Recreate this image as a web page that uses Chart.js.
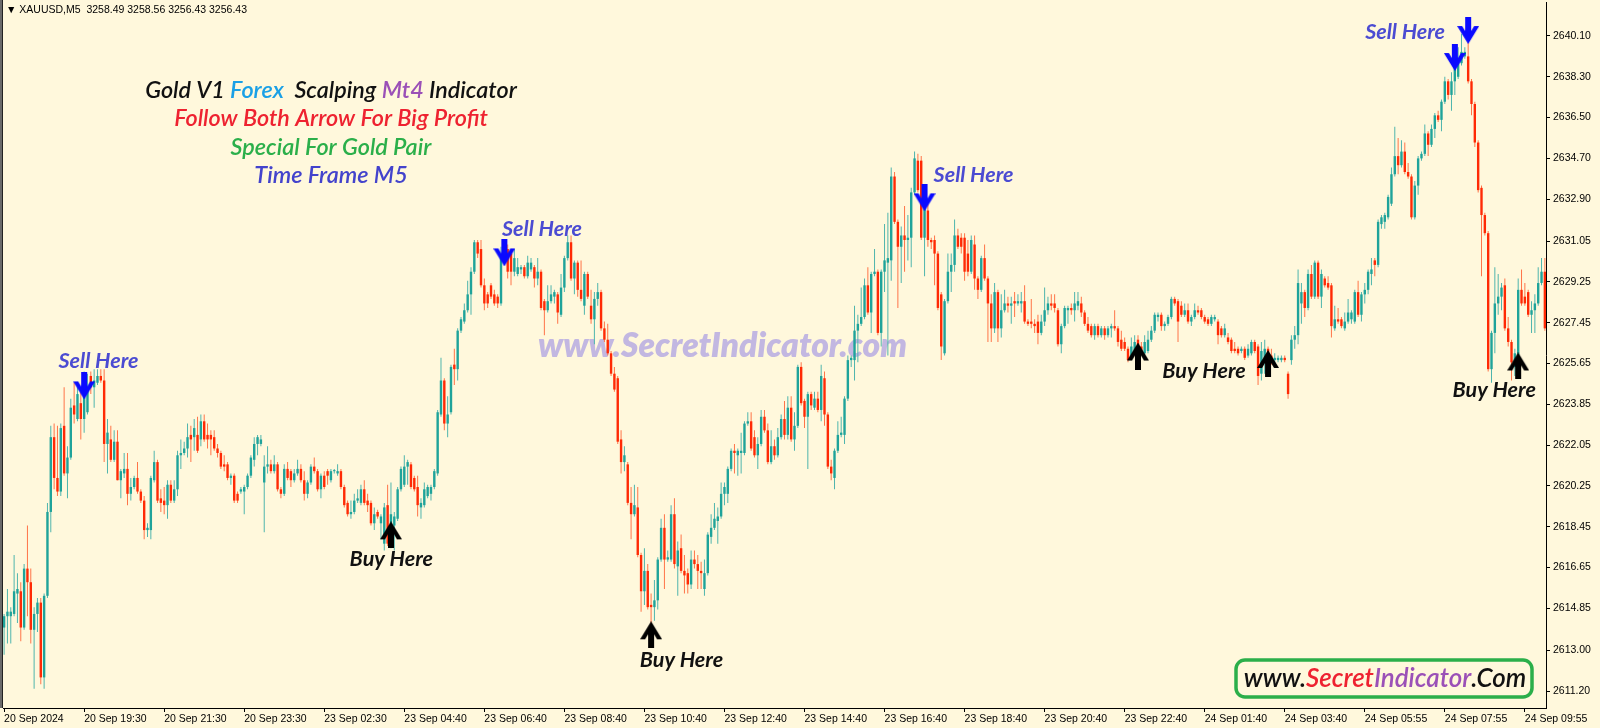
<!DOCTYPE html>
<html>
<head>
<meta charset="utf-8">
<script src="https://cdn.jsdelivr.net/npm/chart.js@4.4.1/dist/chart.umd.min.js"></script>
<style>
html, body { margin: 0; padding: 0; background: #FFF8DC; }
#wrap { width: 1600px; height: 728px; }
</style>
</head>
<body>
<div id="wrap"><canvas id="chart" width="1600" height="728"></canvas></div>
<script>
// XAUUSD M5 bars, oldest first
var openP = [
  2614.0,2614.5,2614.5,2614.6,2615.5,2615.6,2614.0,2616.6,2616.0,2613.9,
  2614.6,2615.1,2611.8,2615.4,2619.1,2622.4,2620.6,2620.0,2622.9,2620.8,
  2621.5,2623.8,2623.2,2623.9,2623.2,2623.5,2625.1,2624.6,2624.8,2625.1,
  2624.9,2622.1,2622.3,2621.4,2622.2,2620.5,2620.8,2621.0,2619.9,2620.2,
  2620.6,2620.0,2619.6,2618.3,2618.3,2620.5,2621.3,2619.7,2619.6,2619.4,
  2620.3,2619.6,2620.1,2621.6,2621.7,2621.9,2622.5,2622.4,2622.5,2622.3,
  2623.1,2622.5,2622.5,2622.4,2621.9,2621.7,2621.2,2621.2,2620.6,2620.7,
  2619.9,2620.0,2620.0,2620.2,2620.7,2621.4,2622.1,2622.1,2620.4,2621.1,
  2621.2,2620.9,2621.2,2620.1,2619.9,2621.0,2620.9,2620.5,2620.8,2621.0,
  2620.5,2619.9,2620.4,2621.1,2620.9,2620.1,2620.7,2620.9,2620.5,2620.9,
  2620.8,2620.9,2620.2,2619.5,2619.0,2619.1,2619.6,2619.5,2620.1,2619.6,
  2619.5,2618.6,2619.1,2618.6,2617.7,2619.4,2617.7,2618.5,2618.8,2620.1,
  2620.3,2621.1,2621.2,2620.6,2620.2,2619.3,2619.4,2619.8,2619.9,2620.2,
  2620.8,2623.4,2624.9,2623.0,2623.5,2625.6,2625.4,2627.1,2627.5,2628.0,
  2628.7,2629.7,2631.0,2630.7,2629.1,2628.7,2629.1,2628.7,2628.6,2628.3,
  2630.4,2630.7,2630.5,2629.7,2629.6,2629.8,2629.9,2629.5,2629.8,2629.9,
  2629.4,2629.7,2628.4,2628.0,2628.4,2628.6,2628.7,2627.8,2629.0,2630.3,
  2631.0,2629.4,2630.1,2628.9,2628.2,2629.6,2628.2,2627.6,2628.5,2628.8,
  2627.2,2626.7,2626.1,2625.2,2625.0,2622.3,2621.3,2621.2,2619.5,2619.0,
  2619.3,2617.2,2615.6,2616.5,2615.0,2614.9,2615.2,2617.0,2618.4,2617.0,
  2617.0,2619.0,2616.7,2617.5,2616.5,2616.4,2615.9,2617.0,2616.8,2616.5,
  2615.7,2616.4,2618.0,2618.4,2618.7,2618.9,2619.9,2619.9,2621.0,2621.8,
  2621.6,2621.7,2621.7,2623.0,2623.1,2622.4,2621.6,2622.1,2623.3,2622.7,
  2621.3,2622.0,2621.6,2622.4,2623.2,2622.5,2623.7,2622.3,2622.9,2625.5,
  2624.0,2623.3,2624.3,2623.7,2624.1,2623.6,2625.0,2623.4,2621.1,2620.6,
  2621.8,2622.5,2622.5,2624.1,2625.8,2625.8,2627.1,2627.4,2627.7,2629.1,
  2627.9,2629.6,2629.7,2627.0,2629.7,2630.1,2630.2,2633.9,2631.9,2630.8,
  2631.3,2631.1,2631.2,2633.2,2634.6,2634.6,2631.2,2632.4,2631.1,2631.1,
  2630.5,2628.7,2626.1,2628.4,2629.7,2630.0,2631.3,2631.2,2631.2,2630.5,
  2629.7,2630.9,2629.4,2628.9,2630.3,2629.4,2628.3,2627.2,2628.8,2627.2,
  2628.0,2628.3,2628.2,2628.4,2628.3,2628.3,2628.4,2627.5,2627.5,2627.4,
  2627.5,2627.0,2627.5,2628.0,2628.3,2628.3,2628.0,2626.5,2627.3,2628.0,
  2628.1,2628.0,2628.2,2628.3,2627.9,2627.4,2627.3,2626.9,2627.3,2626.9,
  2627.2,2626.9,2627.2,2627.3,2627.2,2626.7,2626.6,2626.3,2625.9,2626.2,
  2626.7,2626.4,2626.1,2626.2,2626.7,2627.1,2627.7,2627.8,2627.3,2627.4,
  2627.7,2628.5,2628.4,2628.2,2627.8,2628.0,2627.5,2627.7,2628.0,2628.0,
  2627.7,2627.6,2627.4,2627.6,2627.5,2627.2,2626.9,2626.8,2626.7,2626.3,
  2626.3,2626.2,2626.3,2626.0,2626.1,2626.6,2626.4,2625.2,2625.9,2626.3,
  2626.0,2625.8,2625.8,2625.8,2625.9,2625.2,2625.8,2626.7,2626.9,2628.3,
  2628.8,2628.1,2629.6,2628.6,2630.1,2628.6,2629.4,2629.2,2629.1,2627.2,
  2627.6,2627.6,2627.2,2627.5,2627.6,2627.5,2628.8,2627.8,2628.7,2628.9,
  2629.6,2630.2,2630.0,2631.8,2631.9,2632.1,2632.7,2634.0,2634.8,2634.4,
  2635.0,2634.1,2633.9,2632.1,2633.5,2634.7,2634.9,2635.8,2635.3,2636.0,
  2636.6,2636.4,2637.2,2638.1,2637.5,2638.1,2638.3,2638.9,2639.2,2639.2,
  2638.1,2637.1,2635.4,2633.4,2632.2,2631.4,2625.4,2627.0,2628.3,2628.6,
  2629.1,2627.2,2626.6,2625.5,2626.0,2628.9,2628.6,2628.8,2627.8,2628.0,
  2628.3,2629.2,2629.7
];
var highP = [
  2614.6,2615.7,2614.9,2617.2,2616.4,2616.0,2616.8,2618.5,2616.6,2614.9,
  2615.3,2615.3,2615.5,2619.5,2622.9,2623.0,2622.9,2623.0,2624.6,2622.0,
  2624.1,2624.8,2624.6,2624.4,2625.3,2625.2,2625.3,2625.4,2625.4,2625.4,
  2625.4,2623.2,2622.9,2622.7,2622.7,2621.0,2621.7,2621.7,2620.6,2620.7,
  2621.3,2620.1,2619.8,2618.6,2620.7,2621.8,2621.4,2620.1,2620.2,2620.5,
  2620.5,2620.5,2621.8,2622.3,2622.2,2623.0,2622.9,2623.2,2623.3,2623.4,
  2623.4,2623.0,2622.7,2622.7,2622.1,2621.8,2621.6,2621.3,2620.8,2620.8,
  2620.0,2620.2,2620.3,2620.8,2621.6,2622.4,2622.5,2622.5,2621.6,2622.0,
  2621.4,2621.6,2621.3,2620.2,2621.2,2621.3,2621.0,2621.0,2621.4,2621.2,
  2620.9,2620.5,2621.2,2621.5,2621.0,2620.8,2620.9,2621.0,2621.0,2621.0,
  2621.2,2621.0,2620.3,2619.6,2619.6,2619.9,2620.1,2620.3,2620.5,2619.9,
  2619.6,2619.3,2619.2,2619.0,2619.5,2620.3,2620.4,2619.1,2620.2,2621.1,
  2621.6,2621.4,2621.3,2620.7,2620.7,2619.7,2620.4,2620.3,2620.3,2621.0,
  2623.6,2625.9,2625.0,2624.2,2625.6,2626.3,2627.2,2627.7,2628.3,2629.3,
  2629.9,2631.1,2631.1,2631.1,2629.4,2628.8,2629.2,2628.9,2628.7,2630.8,
  2631.0,2630.9,2630.7,2630.7,2630.3,2630.0,2630.0,2630.4,2630.3,2630.0,
  2630.3,2629.8,2628.5,2629.1,2629.1,2628.9,2628.8,2629.6,2630.4,2631.3,
  2631.3,2630.2,2630.2,2630.2,2629.7,2629.7,2628.9,2628.8,2629.2,2628.9,
  2627.5,2627.4,2626.2,2625.5,2625.1,2622.7,2622.0,2621.3,2620.2,2620.3,
  2620.2,2617.3,2617.5,2616.8,2615.5,2616.1,2617.1,2618.8,2619.0,2617.4,
  2619.4,2619.7,2617.8,2618.1,2617.2,2616.6,2617.4,2617.4,2617.2,2616.9,
  2617.0,2618.2,2619.0,2619.5,2619.3,2620.4,2620.4,2621.1,2621.9,2622.1,
  2621.9,2622.6,2623.1,2623.5,2623.5,2622.7,2622.4,2623.6,2623.6,2623.0,
  2622.7,2622.3,2622.8,2623.4,2624.0,2624.2,2624.2,2623.5,2625.6,2625.7,
  2624.1,2624.4,2624.4,2624.4,2624.4,2625.6,2625.3,2623.5,2621.4,2621.9,
  2623.1,2623.3,2624.2,2626.0,2626.0,2628.2,2627.8,2629.0,2629.4,2629.9,
  2629.7,2630.7,2629.8,2629.8,2631.8,2632.3,2634.3,2634.1,2632.0,2631.7,
  2632.6,2632.2,2633.4,2635.0,2634.9,2634.8,2633.0,2632.7,2631.2,2631.3,
  2630.6,2628.8,2628.5,2630.5,2630.5,2632.0,2631.6,2631.4,2631.4,2631.1,
  2631.3,2631.3,2629.5,2630.4,2630.9,2629.5,2628.7,2629.2,2628.9,2628.7,
  2628.9,2628.6,2628.6,2628.8,2628.7,2628.8,2629.1,2627.6,2628.5,2627.6,
  2627.8,2627.8,2629.0,2628.6,2628.7,2628.7,2628.1,2627.4,2628.2,2628.2,
  2628.3,2628.8,2628.8,2628.6,2628.0,2627.7,2627.4,2627.4,2627.4,2627.3,
  2627.3,2627.3,2627.4,2628.0,2627.3,2627.1,2626.8,2626.4,2626.8,2626.9,
  2626.9,2626.6,2626.9,2627.1,2627.3,2627.9,2627.9,2627.9,2627.5,2627.8,
  2628.6,2628.6,2628.5,2628.4,2628.3,2628.3,2627.8,2628.3,2628.2,2628.1,
  2627.8,2627.7,2627.8,2627.8,2627.6,2627.3,2627.4,2627.0,2626.8,2626.6,
  2626.4,2626.4,2626.4,2626.5,2626.7,2626.7,2626.5,2626.6,2626.7,2626.4,
  2626.3,2626.1,2626.0,2626.0,2626.0,2625.3,2626.9,2627.3,2629.8,2629.2,
  2628.9,2629.8,2630.0,2630.2,2630.2,2629.8,2629.5,2629.5,2629.2,2628.2,
  2628.1,2627.7,2627.9,2628.5,2628.0,2628.9,2629.3,2628.8,2629.2,2629.8,
  2630.3,2630.3,2632.0,2632.2,2632.3,2633.1,2634.3,2636.1,2635.6,2635.5,
  2635.4,2634.5,2634.0,2633.7,2634.8,2635.0,2636.2,2635.9,2636.2,2636.7,
  2636.8,2637.3,2638.3,2638.2,2638.5,2639.1,2639.6,2640.2,2639.6,2639.8,
  2638.2,2637.2,2635.5,2633.5,2632.3,2631.5,2627.1,2629.9,2629.6,2629.2,
  2629.4,2627.7,2626.7,2626.3,2629.4,2629.8,2629.2,2628.9,2628.4,2628.7,
  2629.9,2630.3,2630.3
];
var lowP = [
  2612.8,2613.3,2613.3,2614.5,2614.2,2613.4,2613.9,2614.5,2613.3,2611.3,
  2613.8,2611.5,2611.3,2615.3,2618.2,2620.1,2619.8,2619.8,2620.7,2619.7,
  2621.4,2623.0,2623.1,2622.3,2622.6,2623.4,2624.3,2623.7,2624.7,2624.8,
  2621.3,2620.8,2621.3,2621.3,2620.5,2619.7,2620.6,2619.4,2619.6,2620.1,
  2619.9,2619.5,2617.9,2618.0,2617.9,2620.4,2619.5,2619.1,2619.0,2618.8,
  2619.5,2619.5,2619.8,2621.0,2621.6,2621.5,2621.3,2621.8,2621.7,2622.0,
  2622.2,2621.9,2621.6,2621.8,2621.5,2621.0,2620.9,2620.5,2620.3,2619.5,
  2619.5,2619.9,2619.0,2620.1,2620.6,2621.1,2621.6,2622.0,2618.2,2620.8,
  2620.8,2620.8,2620.0,2619.7,2619.8,2620.5,2620.2,2620.4,2620.7,2620.4,
  2619.6,2619.7,2620.3,2620.8,2620.0,2619.7,2620.1,2620.3,2620.4,2620.8,
  2620.7,2620.1,2619.3,2618.9,2618.8,2619.0,2619.5,2619.4,2619.4,2619.1,
  2618.5,2618.3,2618.8,2617.9,2617.4,2617.6,2617.5,2617.4,2618.7,2620.0,
  2620.2,2620.3,2620.1,2620.0,2618.9,2618.8,2619.3,2619.7,2619.6,2620.1,
  2620.7,2623.3,2622.7,2622.4,2623.4,2624.7,2624.9,2627.0,2627.4,2627.9,
  2627.8,2629.6,2630.3,2629.0,2628.0,2628.1,2628.5,2628.2,2628.1,2628.2,
  2630.2,2629.4,2629.1,2629.5,2629.5,2629.6,2629.4,2629.4,2629.7,2629.0,
  2629.1,2628.0,2626.9,2627.9,2628.3,2628.3,2627.4,2627.7,2628.8,2630.2,
  2629.3,2628.7,2628.6,2628.4,2627.8,2628.5,2627.4,2626.5,2628.2,2627.1,
  2626.6,2626.0,2625.1,2624.4,2622.1,2620.8,2620.9,2619.4,2617.9,2618.9,
  2617.1,2614.7,2615.0,2614.8,2613.9,2614.3,2614.8,2616.9,2615.7,2616.9,
  2616.9,2616.6,2615.4,2616.4,2615.5,2615.5,2615.7,2616.6,2615.7,2615.7,
  2615.4,2616.3,2617.7,2618.3,2617.7,2618.8,2619.4,2619.5,2620.9,2620.8,
  2620.7,2620.8,2621.6,2622.9,2621.8,2621.5,2621.0,2622.0,2622.6,2621.2,
  2621.2,2621.4,2621.5,2622.3,2622.3,2622.3,2622.2,2621.8,2622.8,2623.8,
  2622.8,2621.0,2623.6,2623.6,2623.5,2623.1,2622.9,2621.0,2620.5,2620.1,
  2621.7,2622.4,2622.1,2624.0,2625.5,2624.9,2625.7,2627.3,2627.6,2627.8,
  2627.0,2629.5,2626.9,2626.4,2628.8,2626.0,2629.3,2631.8,2628.1,2629.2,
  2629.7,2630.2,2629.9,2633.1,2633.2,2631.1,2629.5,2630.8,2630.7,2629.1,
  2628.0,2625.8,2626.0,2628.3,2628.8,2629.7,2630.7,2630.5,2629.3,2629.5,
  2629.6,2628.9,2628.5,2628.8,2629.3,2626.6,2626.6,2627.0,2626.6,2626.8,
  2627.9,2627.9,2627.4,2627.7,2628.2,2627.9,2627.4,2627.3,2627.2,2627.0,
  2626.5,2626.9,2627.3,2627.8,2628.0,2627.9,2626.4,2626.1,2627.2,2627.4,
  2627.8,2627.5,2628.0,2627.7,2627.3,2627.0,2626.8,2626.7,2626.8,2626.8,
  2626.7,2626.8,2626.8,2627.1,2626.4,2626.2,2626.2,2625.7,2625.8,2626.1,
  2625.6,2626.0,2626.0,2626.1,2626.6,2627.0,2627.5,2627.1,2627.1,2627.3,
  2627.6,2628.2,2626.6,2627.7,2627.7,2627.4,2627.3,2627.6,2627.8,2627.6,
  2627.4,2627.3,2627.3,2627.5,2626.5,2626.8,2626.8,2626.5,2626.1,2626.1,
  2626.0,2626.1,2625.8,2625.9,2626.0,2626.1,2624.7,2624.9,2625.2,2625.5,
  2625.6,2625.6,2625.7,2625.7,2625.7,2624.1,2625.6,2626.3,2626.5,2627.4,
  2627.7,2628.0,2628.5,2628.5,2628.5,2628.1,2629.0,2628.9,2626.8,2627.1,
  2627.4,2627.2,2627.1,2627.4,2627.4,2627.4,2627.7,2627.5,2628.3,2628.7,
  2629.1,2629.5,2629.9,2631.6,2631.6,2632.0,2632.6,2633.9,2634.0,2634.3,
  2634.0,2633.8,2632.0,2632.0,2633.1,2634.6,2634.8,2634.8,2635.2,2635.6,
  2636.3,2635.9,2637.1,2637.3,2636.8,2637.5,2638.2,2638.8,2639.1,2638.0,
  2636.6,2635.2,2633.2,2629.5,2631.3,2625.3,2624.8,2626.1,2627.8,2628.0,
  2627.1,2626.4,2624.9,2625.1,2625.9,2628.2,2628.2,2627.7,2627.0,2627.0,
  2628.2,2629.1,2627.1
];
var closeP = [
  2614.5,2614.7,2614.7,2615.6,2615.7,2614.0,2616.6,2616.0,2613.9,2614.6,
  2615.1,2611.8,2615.4,2619.1,2622.4,2620.6,2620.0,2622.8,2620.8,2621.5,
  2623.7,2623.4,2624.3,2623.2,2624.7,2624.6,2624.6,2624.9,2625.1,2624.9,
  2622.1,2622.6,2621.4,2622.2,2620.5,2620.9,2621.0,2619.9,2620.2,2620.6,
  2620.0,2619.6,2618.3,2618.4,2620.6,2621.3,2619.6,2619.5,2619.4,2620.3,
  2619.6,2620.1,2621.6,2621.7,2621.9,2622.4,2622.3,2622.8,2621.8,2623.1,
  2622.3,2622.3,2622.3,2621.9,2621.7,2621.1,2621.1,2620.6,2620.7,2619.6,
  2619.6,2620.1,2620.2,2620.7,2621.5,2622.1,2622.4,2622.3,2621.1,2621.2,
  2620.9,2621.2,2620.1,2619.9,2621.0,2620.6,2620.5,2620.8,2621.0,2620.5,
  2619.9,2620.4,2621.1,2620.9,2620.1,2620.7,2620.2,2620.7,2620.9,2620.9,
  2620.9,2620.2,2619.4,2619.0,2619.1,2619.6,2619.7,2620.1,2619.5,2619.4,
  2618.6,2619.0,2618.9,2618.9,2619.3,2617.7,2619.0,2618.9,2620.1,2621.0,
  2621.1,2621.3,2620.2,2620.1,2619.4,2619.5,2620.1,2620.2,2620.2,2620.9,
  2623.5,2624.9,2623.0,2623.4,2625.5,2625.4,2627.1,2627.6,2628.0,2628.7,
  2629.7,2631.0,2630.5,2629.1,2628.3,2628.3,2628.6,2628.3,2628.3,2630.4,
  2630.8,2629.7,2629.7,2630.3,2629.9,2629.9,2629.5,2630.1,2630.1,2629.4,
  2629.7,2628.1,2628.0,2628.4,2628.7,2628.8,2627.9,2629.0,2630.3,2631.0,
  2629.4,2630.1,2628.9,2628.5,2629.6,2628.6,2627.6,2628.5,2628.8,2627.2,
  2626.7,2626.1,2625.2,2624.5,2622.2,2621.3,2621.6,2619.5,2619.0,2619.4,
  2617.2,2615.6,2616.5,2614.9,2614.9,2615.2,2617.0,2618.4,2617.0,2617.1,
  2619.0,2616.8,2617.4,2616.5,2616.3,2615.9,2617.0,2616.8,2616.5,2616.4,
  2616.4,2618.1,2618.4,2618.8,2618.9,2619.9,2620.2,2621.0,2621.8,2621.7,
  2621.8,2621.8,2623.0,2623.1,2621.9,2621.6,2622.1,2623.3,2622.7,2621.3,
  2622.0,2621.6,2622.4,2623.2,2622.5,2623.7,2622.3,2622.9,2625.5,2623.9,
  2623.3,2624.3,2623.8,2624.1,2623.6,2625.1,2623.4,2621.1,2620.8,2621.8,
  2622.5,2622.6,2624.1,2625.8,2625.9,2627.1,2627.4,2627.7,2629.1,2627.9,
  2629.6,2629.7,2627.0,2629.7,2630.2,2630.3,2633.9,2631.9,2630.8,2631.3,
  2631.1,2631.2,2633.2,2634.7,2633.3,2631.2,2632.8,2631.1,2631.0,2630.5,
  2628.1,2626.4,2628.4,2629.7,2630.0,2631.3,2630.8,2630.8,2629.7,2629.7,
  2631.1,2629.4,2628.9,2630.3,2629.4,2628.3,2627.2,2628.8,2627.2,2628.0,
  2628.3,2628.2,2628.3,2628.3,2628.4,2628.4,2627.5,2627.4,2627.4,2627.3,
  2627.0,2627.5,2628.0,2628.3,2628.2,2628.1,2626.5,2627.3,2628.1,2628.1,
  2628.0,2628.3,2628.4,2627.9,2627.4,2627.1,2626.9,2627.3,2626.9,2627.2,
  2626.9,2627.2,2627.3,2627.2,2626.6,2626.3,2626.3,2625.8,2626.4,2626.6,
  2626.1,2626.1,2626.6,2626.7,2627.1,2627.8,2627.8,2627.3,2627.4,2627.7,
  2628.5,2628.3,2627.5,2627.8,2628.0,2627.5,2627.7,2628.0,2627.9,2627.7,
  2627.5,2627.4,2627.7,2627.7,2626.9,2626.9,2627.2,2626.6,2626.2,2626.2,
  2626.1,2626.3,2625.9,2626.3,2626.6,2626.2,2625.1,2626.2,2626.3,2625.7,
  2625.8,2625.9,2625.9,2625.9,2625.8,2624.3,2626.7,2626.9,2629.2,2628.8,
  2628.1,2629.6,2628.6,2630.1,2628.6,2629.6,2629.1,2629.0,2627.3,2627.6,
  2627.5,2627.3,2627.5,2627.9,2627.9,2628.8,2627.8,2628.7,2628.9,2629.7,
  2629.8,2630.0,2631.9,2632.1,2632.2,2633.0,2634.0,2634.8,2634.4,2635.0,
  2634.1,2633.9,2632.1,2633.5,2634.7,2634.9,2635.8,2635.3,2636.0,2636.6,
  2636.4,2637.2,2638.1,2637.5,2638.1,2638.7,2638.9,2639.4,2639.4,2638.1,
  2637.1,2635.4,2633.3,2632.2,2631.4,2625.4,2627.0,2628.3,2628.6,2629.0,
  2627.2,2626.6,2625.7,2626.1,2628.9,2628.3,2628.3,2627.8,2628.0,2628.3,
  2629.2,2629.7,2627.2
];

// time axis: one label every 24 bars
var xTickBars = [0, 24, 48, 72, 96, 120, 144, 168, 192, 216, 240, 264, 288, 312, 336, 360, 384, 408, 432, 456];
var xTickLabels = ['20 Sep 2024', '20 Sep 19:30', '20 Sep 21:30', '20 Sep 23:30', '23 Sep 02:30', '23 Sep 04:40',
  '23 Sep 06:40', '23 Sep 08:40', '23 Sep 10:40', '23 Sep 12:40', '23 Sep 14:40', '23 Sep 16:40', '23 Sep 18:40',
  '23 Sep 20:40', '23 Sep 22:40', '24 Sep 01:40', '24 Sep 03:40', '24 Sep 05:55', '24 Sep 07:55', '24 Sep 09:55'];
var yTickValues = [2611.20, 2613.00, 2614.85, 2616.65, 2618.45, 2620.25, 2622.05, 2623.85, 2625.65,
  2627.45, 2629.25, 2631.05, 2632.90, 2634.70, 2636.50, 2638.30, 2640.10];

// indicator arrows (bar, price)
var sellBars = [24, 150, 276, 435, 439];
var sellPrices = [2624.66, 2630.53, 2632.96, 2639.15, 2640.34];
var buyBars = [116, 194, 340, 379, 454];
var buyPrices = [2618.09, 2613.68, 2625.98, 2625.65, 2625.54];

// "Sell Here" / "Buy Here" text anchors (bar, baseline price)
var sellTextBars = [28.3, 161.3, 290.7, 420.1];
var sellTextPrices = [2625.47, 2631.28, 2633.64, 2639.97];
var buyTextBars = [116.1, 203.1, 359.8, 446.8];
var buyTextPrices = [2616.72, 2612.26, 2625.03, 2624.15];

var BG = '#FFF8DC';
var bullBody = '#1FA39A', bullWick = '#4FB5AD';
var bearBody = '#FF2A05', bearWick = '#FF7448';

function makeArrow(color, down) {
  var c = document.createElement('canvas');
  c.width = 22; c.height = 27;
  var g = c.getContext('2d');
  g.fillStyle = color;
  if (!down) { g.translate(0, 27); g.scale(1, -1); }
  g.fillRect(8, 0, 6, 22);
  g.beginPath();
  g.moveTo(0, 9); g.lineTo(5, 9); g.lineTo(11, 19); g.lineTo(17, 9); g.lineTo(22, 9); g.lineTo(11, 27);
  g.closePath();
  g.fill();
  return c;
}

function fitSize(g, text, style, family, targetW) {
  g.font = style + ' 40px ' + family;
  return 40 * targetW / g.measureText(text).width;
}

function drawSegments(g, segs, cx, y) {
  var total = 0;
  segs.forEach(function(s) { total += g.measureText(s[0]).width; });
  var x = cx - total / 2;
  g.textAlign = 'left';
  segs.forEach(function(s) {
    g.fillStyle = s[1];
    g.fillText(s[0], x, y);
    x += g.measureText(s[0]).width;
  });
}

var decor = {
  id: 'decor',
  beforeDraw: function(c) {
    var g = c.ctx;
    g.save();
    g.fillStyle = BG;
    g.fillRect(0, 0, c.width, c.height);
    g.restore();
  },
  beforeDatasetsDraw: function(c) {
    var g = c.ctx;
    var wm = 'www.SecretIndicator.com';
    g.save();
    var s = fitSize(g, wm, 'italic 800', 'Lato', 369);
    g.font = 'italic 800 ' + s + 'px Lato';
    g.fillStyle = '#C2B7E1';
    g.textAlign = 'center';
    g.textBaseline = 'alphabetic';
    g.fillText(wm, 722.5, 357);
    g.restore();
  },
  afterDatasetsDraw: function(c) {
    var g = c.ctx, xs = c.scales.x, ys = c.scales.y;
    g.save();
    g.textBaseline = 'alphabetic';

    // window frame on the left
    g.fillStyle = '#6a6a6a';
    g.fillRect(0, 0, 2, 708);
    g.fillStyle = '#222';
    g.fillRect(2, 0, 1, 708);

    // signal labels
    var ls = fitSize(g, 'Sell Here', 'italic bold', 'Lato', 80);
    g.font = 'italic bold ' + ls + 'px Lato';
    g.textAlign = 'center';
    g.fillStyle = '#4B4BD2';
    sellTextBars.forEach(function(b, k) {
      g.fillText('Sell Here', xs.getPixelForValue(b), ys.getPixelForValue(sellTextPrices[k]));
    });
    g.fillStyle = '#111';
    buyTextBars.forEach(function(b, k) {
      g.fillText('Buy Here', xs.getPixelForValue(b), ys.getPixelForValue(buyTextPrices[k]));
    });

    // title block
    var line1 = [['Gold V1 ', '#111'], ['Forex', '#1AA0E6'], ['  Scalping ', '#111'], ['Mt4', '#9B50B7'], [' Indicator', '#111']];
    var ts = fitSize(g, 'Gold V1 Forex  Scalping Mt4 Indicator', 'italic 600', 'Lato', 372);
    g.font = 'italic 600 ' + ts + 'px Lato';
    drawSegments(g, line1, 331, 98);
    g.textAlign = 'center';
    g.fillStyle = '#EE2230';
    g.fillText('Follow Both Arrow For Big Profit', 331, 126);
    g.fillStyle = '#2BAF4A';
    g.fillText('Special For Gold Pair', 331, 155);
    g.fillStyle = '#4343CC';
    g.fillText('Time Frame M5', 331, 183);

    // logo box
    g.strokeStyle = '#2BAF4A';
    g.lineWidth = 3.5;
    g.beginPath();
    g.roundRect(1236, 660, 296, 37, 9);
    g.stroke();
    var logo = [['www.', '#111'], ['Secret', '#EE2230'], ['Indicator', '#9B50B7'], ['.Com', '#111']];
    var lsz = fitSize(g, 'www.SecretIndicator.Com', 'italic 600', 'Lato', 281);
    g.font = 'italic 600 ' + lsz + 'px Lato';
    drawSegments(g, logo, 1385, 687);

    // header line
    g.font = '10.5px "Liberation Sans"';
    g.fillStyle = '#000';
    g.textAlign = 'left';
    g.fillText('\u25BC XAUUSD,M5  3258.49 3258.56 3256.43 3256.43', 6, 13);
    g.restore();
  }
};

var barIdx = openP.map(function(v, i) { return i; });
var sellImg = makeArrow('#0A0AFF', true);
var buyImg = makeArrow('#000000', false);

new Chart(document.getElementById('chart'), {
  type: 'bar',
  data: {
    datasets: [
      {
        type: 'scatter', label: 'sell', order: 1,
        data: sellBars.map(function(b, k) { return { x: b, y: sellPrices[k] }; }),
        pointStyle: sellImg, pointRadius: 6
      },
      {
        type: 'scatter', label: 'buy', order: 1,
        data: buyBars.map(function(b, k) { return { x: b, y: buyPrices[k] }; }),
        pointStyle: buyImg, pointRadius: 6
      },
      {
        label: 'body', order: 2,
        data: barIdx.map(function(i) { return { x: i, y: [openP[i], closeP[i]] }; }),
        backgroundColor: barIdx.map(function(i) { return closeP[i] >= openP[i] ? bullBody : bearBody; }),
        barThickness: 2.4, grouped: false, minBarLength: 1, inflateAmount: 0, borderWidth: 0
      },
      {
        label: 'wick', order: 3,
        data: barIdx.map(function(i) {
          return { x: i, y: [Math.min(lowP[i], openP[i], closeP[i]), Math.max(highP[i], openP[i], closeP[i])] };
        }),
        backgroundColor: barIdx.map(function(i) { return closeP[i] >= openP[i] ? bullWick : bearWick; }),
        barThickness: 1, grouped: false, inflateAmount: 0, borderWidth: 0
      }
    ]
  },
  options: {
    responsive: false,
    animation: false,
    events: [],
    layout: { autoPadding: false, padding: { left: 3, top: 2, right: 0, bottom: 0 } },
    plugins: { legend: { display: false }, tooltip: { enabled: false } },
    scales: {
      x: {
        type: 'linear', min: -0.33, max: 462.34, offset: false, position: 'bottom',
        grid: { offset: false, drawOnChartArea: false, drawTicks: true, tickLength: 4, color: '#000' },
        border: { display: true, color: '#000', width: 1 },
        afterBuildTicks: function(s) { s.ticks = xTickBars.map(function(v) { return { value: v }; }); },
        afterFit: function(s) { s.height = 20; s.paddingLeft = 0; s.paddingRight = 0; },
        ticks: {
          autoSkip: false, maxRotation: 0, minRotation: 0, align: 'start', padding: 1, color: '#000',
          font: { family: 'Liberation Sans', size: 10.5 },
          callback: function(v) { var k = xTickBars.indexOf(v); return k >= 0 ? xTickLabels[k] : ''; }
        }
      },
      y: {
        type: 'linear', position: 'right', min: 2610.45, max: 2641.60,
        grid: { drawOnChartArea: false, drawTicks: true, tickLength: 4, color: '#000' },
        border: { display: true, color: '#000', width: 1 },
        afterBuildTicks: function(s) { s.ticks = yTickValues.map(function(v) { return { value: v }; }); },
        afterFit: function(s) { s.width = 54; s.paddingTop = 0; s.paddingBottom = 0; },
        ticks: {
          padding: 3, color: '#000',
          font: { family: 'Liberation Sans', size: 10.5 },
          callback: function(v) { return Number(v).toFixed(2); }
        }
      }
    }
  },
  plugins: [decor]
});
</script>
</body>
</html>
